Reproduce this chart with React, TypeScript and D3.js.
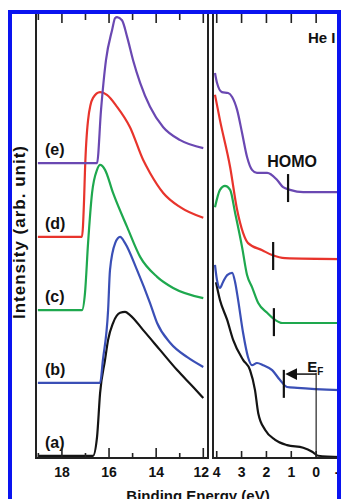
import React from 'react';
import * as d3 from 'd3';

// spectra: [binding energy (eV), intensity (arb. unit, offset included)]
const secA = [[19.02, 0.5], [16.68, 0.5], [16.51, 4.7], [16.38, 14.6], [16.17, 22.1], [16.04, 26.6], [15.83, 30.4], [15.53, 32.7], [15.32, 32.9], [15.11, 32.2], [14.55, 28.8], [13.83, 24.3], [13.11, 19.8], [12.43, 16.0], [12.0, 13.5]];
const secB = [[19.02, 16.9], [16.38, 16.9], [16.26, 22.1], [16.04, 33.3], [15.96, 42.3], [15.74, 48.4], [15.53, 49.8], [15.32, 48.4], [14.81, 42.3], [14.26, 34.9], [13.96, 30.4], [13.4, 25.9], [12.68, 22.7], [12.0, 20.5]];
const secC = [[19.02, 33.3], [17.15, 33.3], [17.02, 37.2], [16.89, 48.4], [16.72, 59.7], [16.51, 64.9], [16.38, 66.0], [16.17, 64.9], [15.83, 59.7], [15.23, 52.0], [14.68, 45.3], [13.96, 40.8], [13.28, 38.3], [12.0, 36.0]];
const secD = [[19.02, 49.8], [17.15, 49.8], [17.06, 58.1], [17.02, 64.9], [16.89, 76.1], [16.68, 81.1], [16.38, 82.4], [16.09, 81.8], [15.66, 79.1], [15.11, 74.5], [14.55, 67.1], [14.26, 64.2], [13.7, 59.7], [12.98, 56.5], [12.0, 54.1]];
const secE = [[19.02, 66.4], [16.51, 66.4], [16.34, 78.4], [16.13, 89.6], [15.87, 96.4], [15.74, 99.1], [15.66, 99.3], [15.45, 98.6], [15.23, 94.8], [14.98, 89.6], [14.68, 84.5], [14.26, 79.1], [13.7, 74.5], [12.98, 71.6], [12.0, 69.8]];

const valA = [[4.03, 39.6], [3.87, 35.6], [3.58, 31.1], [3.34, 26.6], [2.94, 22.1], [2.66, 19.8], [2.46, 15.3], [2.33, 10.1], [2.05, 6.3], [1.65, 4.1], [1.17, 2.9], [0.52, 2.3], [0.16, 1.4], [-0.08, 0.5], [-0.97, 0.2]];
const valB = [[4.07, 43.5], [3.99, 40.1], [3.87, 38.3], [3.75, 39.6], [3.58, 41.2], [3.38, 41.7], [3.26, 39.6], [3.14, 35.6], [2.94, 28.2], [2.74, 22.7], [2.58, 20.9], [2.38, 21.4], [2.13, 20.9], [1.77, 19.8], [1.46, 17.6], [1.17, 16.0], [0.76, 15.8], [-0.97, 15.3]];
const valC = [[4.07, 56.5], [3.87, 60.4], [3.67, 61.3], [3.46, 60.4], [3.26, 55.2], [2.98, 47.5], [2.78, 41.2], [2.58, 38.5], [2.33, 34.9], [1.97, 32.7], [1.65, 31.1], [1.37, 30.4], [-0.97, 30.4]];
const valD = [[4.07, 81.8], [3.87, 76.1], [3.46, 65.5], [3.18, 55.9], [2.94, 50.7], [2.74, 48.4], [2.17, 46.8], [1.77, 45.7], [1.25, 45.0], [-0.97, 44.8]];
const valE = [[4.07, 86.7], [3.99, 84.5], [3.79, 82.4], [3.54, 82.2], [3.38, 81.3], [3.18, 78.4], [2.98, 73.2], [2.78, 67.8], [2.58, 64.9], [2.38, 64.2], [1.97, 64.2], [1.57, 62.6], [1.33, 61.0], [1.05, 60.4], [0.52, 59.9], [-0.97, 59.9]];

const labels = ['(a)', '(b)', '(c)', '(d)', '(e)'];
const colors = ['#141414', '#3a4fb6', '#1ea84e', '#e8342c', '#6a48b2'];
const baselines = [0.5, 16.9, 33.3, 49.8, 66.4];

// HOMO onset marks: [energy, intensity at the mark] for (b)..(e)
const homoMarks = [[1.3, 16.7], [1.7, 30.6], [1.73, 45.5], [1.13, 60.8]];
const fermi = { energy: 0, top: 19.2, arrowTo: 1.17, arrowY: 18.9 };

const leftTicks = [19, 18, 17, 16, 15, 14, 13, 12];
const leftLabels = [18, 16, 14, 12];
const rightTicks = [4, 3, 2, 1, 0, -1];

const FONT = '"Liberation Sans", Arial, sans-serif';

export default function App() {
  const W = 341;
  const H = 499;
  const yTop = 12;
  const yBot = 458;

  const y = d3.scaleLinear().domain([0, 100]).range([yBot, 14]);
  const xL = d3.scaleLinear().domain([19.1, 11.8]).range([36, 208]);
  const xR = d3.scaleLinear().domain([4.15, -1.0]).range([213, 341]);

  const lineL = d3.line<number[]>().x(d => xL(d[0])).y(d => y(d[1])).curve(d3.curveMonotoneX);
  const lineR = d3.line<number[]>().x(d => xR(d[0])).y(d => y(d[1])).curve(d3.curveMonotoneX);

  const left = [secA, secB, secC, secD, secE];
  const right = [valA, valB, valC, valD, valE];

  const axisColor = '#222';

  return (
    <svg width={W} height={H} style={{ position: 'absolute', left: 0, top: 0, background: '#fff' }}>
      <defs>
        <clipPath id="clipR">
          <rect x={213} y={yTop} width={130} height={yBot - yTop} />
        </clipPath>
        <marker id="arrow" viewBox="0 0 10 10" refX="1" refY="5" markerWidth="8" markerHeight="8" orient="auto-start-reverse">
          <path d="M0,0 L10,5 L0,10 z" fill="#111" />
        </marker>
      </defs>
      <rect x={0} y={0} width={W} height={H} fill="#fff" />

      {/* left panel curves */}
      {left.map((s, i) => (
        <path key={'l' + i} d={lineL(s) || ''} fill="none" stroke={colors[i]} strokeWidth={2.2} strokeLinejoin="round" />
      ))}
      {/* right panel curves */}
      <g clipPath="url(#clipR)">
        {right.map((s, i) => (
          <path key={'r' + i} d={lineR(s) || ''} fill="none" stroke={colors[i]} strokeWidth={2.2} strokeLinejoin="round" />
        ))}
      </g>

      {/* HOMO marks */}
      {homoMarks.map((m, i) => (
        <line key={'h' + i} x1={xR(m[0])} x2={xR(m[0])} y1={y(m[1]) - 14} y2={y(m[1]) + 14} stroke="#111" strokeWidth={2.2} />
      ))}
      <text x={xR(homoMarks[3][0]) + 4} y={y(homoMarks[3][1]) - 21} textAnchor="middle" fontFamily={FONT} fontWeight="bold" fontSize={16} fill="#111">HOMO</text>

      {/* Fermi level */}
      <line x1={xR(fermi.energy)} x2={xR(fermi.energy)} y1={y(fermi.top)} y2={yBot} stroke="#222" strokeWidth={1.2} />
      <line x1={xR(fermi.energy)} x2={xR(fermi.arrowTo) + 9} y1={y(fermi.arrowY)} y2={y(fermi.arrowY)} stroke="#111" strokeWidth={1.5} markerEnd="url(#arrow)" />
      <text x={xR(fermi.energy) - 9} y={y(fermi.top) - 1} fontFamily={FONT} fontWeight="bold" fontSize={15} fill="#111">
        E<tspan fontSize={10} dy={3}>F</tspan>
      </text>

      {/* spectrum labels */}
      {labels.map((l, i) => (
        <text key={l} x={45} y={y(baselines[i]) - 8} fontFamily={FONT} fontWeight="bold" fontSize={16} fill="#111">{l}</text>
      ))}

      {/* frames */}
      <path d={`M36,${yTop}V${yBot}H208V${yTop}`} fill="none" stroke={axisColor} strokeWidth={2} />
      <path d={`M213,${yTop}V${yBot}H341`} fill="none" stroke={axisColor} strokeWidth={2} />

      {/* ticks */}
      {leftTicks.map(t => {
        const major = t % 2 === 0;
        return (
          <g key={'lt' + t}>
            <line x1={xL(t)} x2={xL(t)} y1={14} y2={major ? 23 : 20} stroke={axisColor} strokeWidth={1.6} />
            <line x1={xL(t)} x2={xL(t)} y1={yBot} y2={yBot - (major ? 10 : 5)} stroke={axisColor} strokeWidth={1.6} />
          </g>
        );
      })}
      {rightTicks.map(t => (
        <g key={'rt' + t}>
          <line x1={xR(t)} x2={xR(t)} y1={14} y2={23} stroke={axisColor} strokeWidth={1.6} />
          <line x1={xR(t)} x2={xR(t)} y1={yBot} y2={yBot - 7} stroke={axisColor} strokeWidth={1.6} />
        </g>
      ))}
      {leftLabels.map(t => (
        <text key={'ll' + t} x={xL(t) - (t === 12 ? 2 : 0)} y={477} textAnchor="middle" fontFamily={FONT} fontWeight="bold" fontSize={14} fill="#111">{t}</text>
      ))}
      {rightTicks.map(t => (
        <text key={'rl' + t} x={xR(t)} y={477} textAnchor="middle" fontFamily={FONT} fontWeight="bold" fontSize={14} fill="#111">{t}</text>
      ))}

      {/* axis titles */}
      <text x={198} y={501} textAnchor="middle" fontFamily={FONT} fontWeight="bold" fontSize={15} fill="#111">Binding Energy (eV)</text>
      <text transform="translate(25,232) rotate(-90)" textAnchor="middle" fontFamily={FONT} fontWeight="bold" fontSize={17} letterSpacing={1} fill="#111">Intensity (arb. unit)</text>
      <text x={308} y={43} fontFamily={FONT} fontWeight="bold" fontSize={15} fill="#111">He I</text>

      {/* blue frame */}
      <rect x={10} y={12} width={329} height={500} fill="none" stroke="#0a14f0" strokeWidth={4} />
    </svg>
  );
}
